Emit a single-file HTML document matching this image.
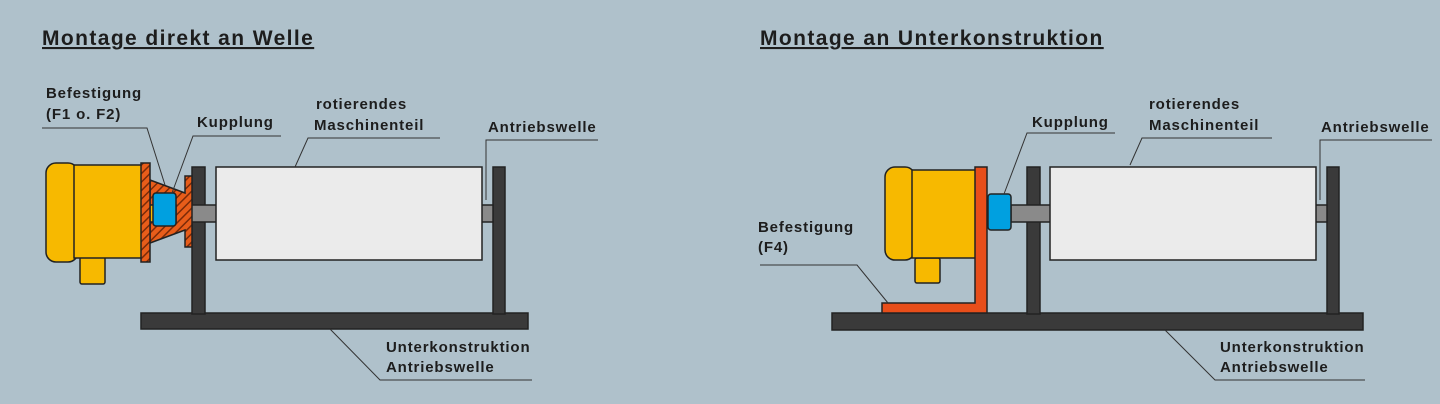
<!DOCTYPE html>
<html><head><meta charset="utf-8"><style>
html,body{margin:0;padding:0;background:#afc1cb;}
svg{display:block}
text{font-family:"Liberation Sans",sans-serif;fill:#1d1d1d;}
.l{font-size:15px;font-weight:bold;letter-spacing:0.85px}
.t{font-size:21px;font-weight:bold;text-decoration:underline;letter-spacing:1.4px}
</style></head><body>
<svg width="1440" height="404" viewBox="0 0 1440 404" xmlns="http://www.w3.org/2000/svg">
<defs>
<pattern id="h" width="6" height="6" patternUnits="userSpaceOnUse" patternTransform="rotate(45)">
<rect width="6" height="6" fill="#e85d1a"/><rect width="1.5" height="6" fill="#7a2a08"/>
</pattern>
</defs>
<g stroke="#222" stroke-width="1.5">
<rect x="141" y="313" width="387" height="16" fill="#3a3a3a"/>
<rect x="192" y="167" width="13" height="147" fill="#3a3a3a"/>
<rect x="493" y="167" width="12" height="147" fill="#3a3a3a"/>
<rect x="176" y="205" width="317" height="17" fill="#8a8a8a"/>
<rect x="216" y="167" width="266" height="93" fill="#ebebeb"/>
<rect x="80" y="255" width="25" height="29" rx="2" fill="#f7b900"/>
<rect x="46" y="163" width="32" height="99" rx="10" fill="#f7b900"/>
<rect x="74" y="165" width="68" height="93" fill="#f7b900"/>
<path d="M150 180 L185 193 L185 176 L192 176 L192 247 L185 247 L185 230 L150 243 Z" fill="url(#h)"/>
<rect x="150" y="205" width="26" height="17" fill="#f7b900"/>
<rect x="141" y="163" width="9" height="99" fill="url(#h)"/>
<rect x="153" y="193" width="23" height="33" rx="3" fill="#00a0e0"/>
<rect x="832" y="313" width="531" height="17" fill="#3a3a3a"/>
<rect x="1027" y="167" width="13" height="147" fill="#3a3a3a"/>
<rect x="1327" y="167" width="12" height="147" fill="#3a3a3a"/>
<rect x="1011" y="205" width="316" height="17" fill="#8a8a8a"/>
<rect x="1050" y="167" width="266" height="93" fill="#ebebeb"/>
<rect x="915" y="258" width="25" height="25" rx="2" fill="#f7b900"/>
<rect x="885" y="167" width="30" height="93" rx="10" fill="#f7b900"/>
<rect x="912" y="170" width="64" height="88" fill="#f7b900"/>
<path d="M975 167 L987 167 L987 313 L882 313 L882 303 L975 303 Z" fill="#e84e1a"/>
<rect x="988" y="194" width="23" height="36" rx="3" fill="#00a0e0"/>
</g>
<g stroke="#333" stroke-width="1" fill="none">
<polyline points="42,128 147,128 165,185"/>
<polyline points="281,136 193,136 172,193"/>
<polyline points="440,138 308,138 295,167"/>
<polyline points="598,140 486,140 486,200"/>
<polyline points="330,329 380,380 532,380"/>
<polyline points="1115,133 1027,133 1004,194"/>
<polyline points="1272,138 1142,138 1130,165"/>
<polyline points="1432,140 1320,140 1320,200"/>
<polyline points="760,265 857,265 888,303"/>
<polyline points="1165,330 1215,380 1365,380"/>
</g>
<text class="t" x="42" y="45">Montage direkt an Welle</text>
<text class="t" x="760" y="45">Montage an Unterkonstruktion</text>
<text class="l" x="46" y="98">Befestigung</text>
<text class="l" x="46" y="119">(F1 o. F2)</text>
<text class="l" x="197" y="127">Kupplung</text>
<text class="l" x="316" y="109">rotierendes</text>
<text class="l" x="314" y="130">Maschinenteil</text>
<text class="l" x="488" y="132">Antriebswelle</text>
<text class="l" x="386" y="352">Unterkonstruktion</text>
<text class="l" x="386" y="372">Antriebswelle</text>
<text class="l" x="1032" y="127">Kupplung</text>
<text class="l" x="1149" y="109">rotierendes</text>
<text class="l" x="1149" y="130">Maschinenteil</text>
<text class="l" x="1321" y="132">Antriebswelle</text>
<text class="l" x="758" y="232">Befestigung</text>
<text class="l" x="758" y="252">(F4)</text>
<text class="l" x="1220" y="352">Unterkonstruktion</text>
<text class="l" x="1220" y="372">Antriebswelle</text>
</svg>
</body></html>
